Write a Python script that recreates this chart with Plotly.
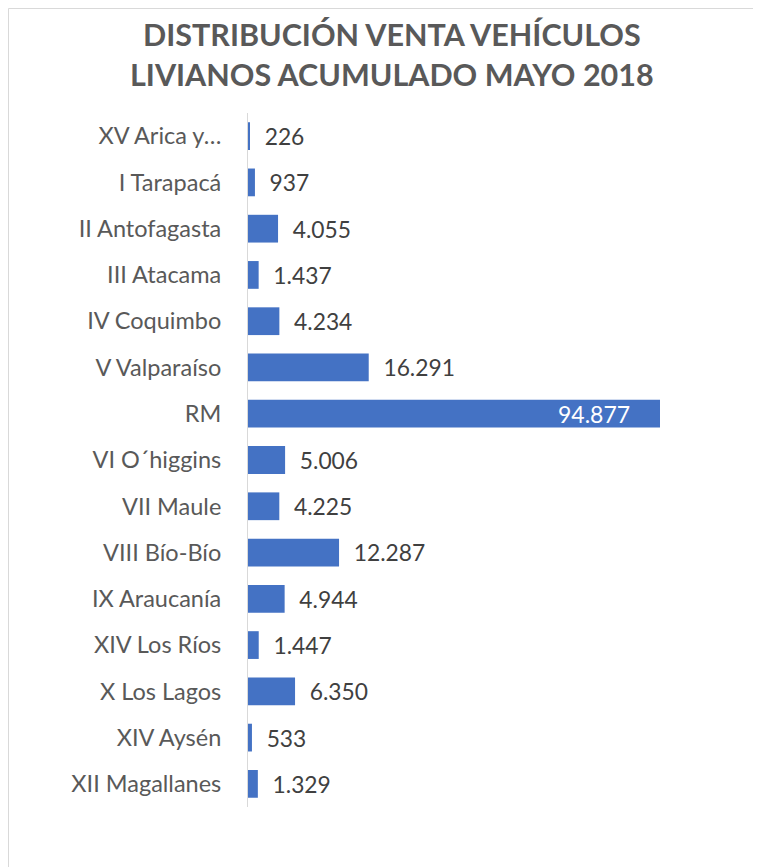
import plotly.graph_objects as go

categories = ["XV Arica y…", "I Tarapacá", "II Antofagasta", "III Atacama", "IV Coquimbo",
              "V Valparaíso", "RM", "VI O´higgins", "VII Maule", "VIII Bío-Bío",
              "IX Araucanía", "XIV Los Ríos", "X Los Lagos", "XIV Aysén", "XII Magallanes"]
values = [226, 937, 4055, 1437, 4234, 16291, 94877, 5006, 4225, 12287, 4944, 1447, 6350, 533, 1329]
title_text = "DISTRIBUCIÓN VENTA VEHÍCULOS<br>LIVIANOS ACUMULADO MAYO 2018"
x_axis_max = 55600

# page body has an 8px margin, so the figure is laid out 8px smaller
OFF = 8
W, H = 761 - OFF, 867 - OFF
L, R, T, B = 248 - OFF, 660 - OFF, 113 - OFF, 807 - OFF
PW, PH = R - L, B - T

clipped = [v > x_axis_max for v in values]
positions = ["none" if c else "outside" for c in clipped]

fig = go.Figure(go.Bar(
    y=categories, x=values, orientation="h",
    marker=dict(color="#4472C4", line=dict(width=0)),
    texttemplate="\u00a0\u00a0%{x:,}", textposition=positions,
    textfont=dict(family="Lato", size=23, color="#404040"),
    cliponaxis=True,
))

annotations = [dict(text=title_text, xref="paper", yref="paper",
                     x=(391.5 - OFF - L) / PW, y=(B - (54 - OFF)) / PH,
                     xanchor="center", yanchor="middle", showarrow=False,
                     font=dict(family="Lato", size=30.5, color="#595959", weight="bold"))]
for cat, v, c in zip(categories, values, clipped):
    if c:
        annotations.append(dict(text=f"{v:,}".replace(",", "."), x=x_axis_max, y=cat,
                                xref="x", yref="y", xanchor="right", yanchor="middle",
                                xshift=-28, showarrow=False,
                                font=dict(family="Lato", size=23, color="#FFFFFF")))

fig.update_layout(
    width=W, height=H,
    margin=dict(l=L, r=W - R, t=T, b=H - B, autoexpand=False),
    plot_bgcolor="white", paper_bgcolor="white",
    separators=",.",
    bargap=0.4,
    showlegend=False,
    xaxis=dict(range=[0, x_axis_max], showticklabels=False, showgrid=False,
               zeroline=False, showline=False, fixedrange=True),
    yaxis=dict(autorange="reversed", showline=True, linecolor="#D9D9D9", linewidth=1,
               showgrid=False, ticks="", ticklabelstandoff=21,
               tickfont=dict(family="Lato", size=23.5, color="#595959")),
    annotations=annotations,
    shapes=[dict(type="rect", xref="paper", yref="paper",
                 x0=(0.5 - L) / PW, x1=(W + 20 - L) / PW,
                 y0=(B - (H + 20)) / PH, y1=1 + (T - 0.5) / PH,
                 line=dict(color="#D9D9D9", width=1), fillcolor="rgba(0,0,0,0)", layer="below")],
)

fig.write_html("out.html")
